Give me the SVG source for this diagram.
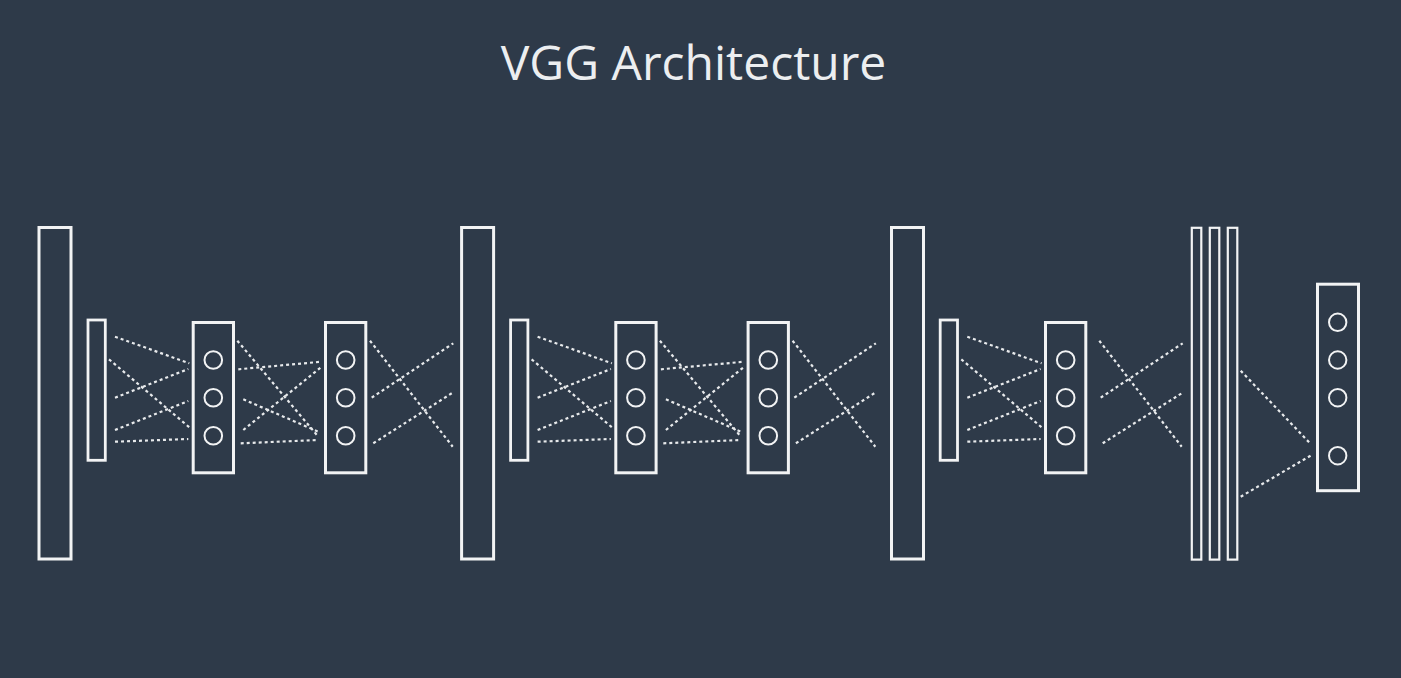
<svg xmlns="http://www.w3.org/2000/svg" width="1401" height="678" viewBox="0 0 1401 678">
<style>
.bg{fill:#2e3a49}
.title{font-family:"Open Sans","Liberation Sans",sans-serif;font-size:48px;fill:#eceef0}
.big{fill:none;stroke:#f2f3f4;stroke-width:3}
.thin{fill:none;stroke:#f2f3f4;stroke-width:2.8}
.fc{fill:none;stroke:#f2f3f4;stroke-width:2.2}
.box{fill:none;stroke:#f2f3f4;stroke-width:3}
.n{fill:none;stroke:#f2f3f4;stroke-width:2}
.c line{stroke:#e8eaec;stroke-width:2.2;stroke-dasharray:3 3}
</style>
<rect class="bg" x="0" y="0" width="1401" height="678"/>
<text class="title" x="693.5" y="80" text-anchor="middle">VGG Architecture</text>

<g id="input1"><rect class="big" x="39" y="227.5" width="32" height="331.5"/></g>
<g id="pool1"><rect class="thin" x="88" y="320" width="17.3" height="140.3"/></g>
<g id="conv1a"><rect class="box" x="193.2" y="322.5" width="40.3" height="150.3"/>
<circle class="n" cx="213.3" cy="360" r="8.8"/><circle class="n" cx="213.3" cy="397.7" r="8.8"/><circle class="n" cx="213.3" cy="435.7" r="8.8"/></g>
<g id="conv1b"><rect class="box" x="325.5" y="322.5" width="40.3" height="150.3"/>
<circle class="n" cx="345.7" cy="360" r="8.8"/><circle class="n" cx="345.7" cy="397.7" r="8.8"/><circle class="n" cx="345.7" cy="435.7" r="8.8"/></g>

<g id="input2"><rect class="big" x="461.6" y="227.5" width="32" height="331.5"/></g>
<g id="pool2"><rect class="thin" x="510.6" y="320" width="17.3" height="140.3"/></g>
<g id="conv2a"><rect class="box" x="615.8" y="322.5" width="40.3" height="150.3"/>
<circle class="n" cx="635.9" cy="360" r="8.8"/><circle class="n" cx="635.9" cy="397.7" r="8.8"/><circle class="n" cx="635.9" cy="435.7" r="8.8"/></g>
<g id="conv2b"><rect class="box" x="748.1" y="322.5" width="40.3" height="150.3"/>
<circle class="n" cx="768.3" cy="360" r="8.8"/><circle class="n" cx="768.3" cy="397.7" r="8.8"/><circle class="n" cx="768.3" cy="435.7" r="8.8"/></g>

<g id="input3"><rect class="big" x="891.5" y="227.5" width="32" height="331.5"/></g>
<g id="pool3"><rect class="thin" x="940.2" y="320" width="17.3" height="140.3"/></g>
<g id="conv3"><rect class="box" x="1045.5" y="322.5" width="40.3" height="150.3"/>
<circle class="n" cx="1065.7" cy="360" r="8.8"/><circle class="n" cx="1065.7" cy="397.7" r="8.8"/><circle class="n" cx="1065.7" cy="435.7" r="8.8"/></g>

<g id="fc"><rect class="fc" x="1191.8" y="227.8" width="9.5" height="331.8"/><rect class="fc" x="1209.8" y="227.8" width="9.5" height="331.8"/><rect class="fc" x="1227.8" y="227.8" width="9.5" height="331.8"/></g>
<g id="output"><rect class="box" x="1317.5" y="284.2" width="41" height="206.5"/>
<circle class="n" cx="1337.7" cy="322.3" r="8.7"/><circle class="n" cx="1337.7" cy="360" r="8.7"/><circle class="n" cx="1337.7" cy="397.7" r="8.7"/><circle class="n" cx="1337.7" cy="455.7" r="8.7"/></g>

<g id="connectors" class="c">
<line x1="115" y1="336.7" x2="189.3" y2="363.3"/>
<line x1="109" y1="359.3" x2="189.3" y2="427.3"/>
<line x1="115" y1="397.7" x2="188.3" y2="369"/>
<line x1="115" y1="430" x2="188.3" y2="401"/>
<line x1="115" y1="441.7" x2="188.3" y2="439"/>
<line x1="237.3" y1="340.7" x2="318.3" y2="436.7"/>
<line x1="238.3" y1="369.3" x2="321.7" y2="361.7"/>
<line x1="243.3" y1="399.3" x2="318.3" y2="431.7"/>
<line x1="243.3" y1="430" x2="321.7" y2="366.7"/>
<line x1="240.7" y1="443.3" x2="318.3" y2="440"/>
<line x1="370" y1="340.7" x2="452.7" y2="446.7"/>
<line x1="371.7" y1="397.7" x2="453.3" y2="343.3"/>
<line x1="373.3" y1="443.3" x2="451.7" y2="393.3"/>

<line x1="537.6" y1="336.7" x2="611.9" y2="363.3"/>
<line x1="531.6" y1="359.3" x2="611.9" y2="427.3"/>
<line x1="537.6" y1="397.7" x2="610.9" y2="369"/>
<line x1="537.6" y1="430" x2="610.9" y2="401"/>
<line x1="537.6" y1="441.7" x2="610.9" y2="439"/>
<line x1="659.9" y1="340.7" x2="740.9" y2="436.7"/>
<line x1="660.9" y1="369.3" x2="744.3" y2="361.7"/>
<line x1="665.9" y1="399.3" x2="740.9" y2="431.7"/>
<line x1="665.9" y1="430" x2="744.3" y2="366.7"/>
<line x1="663.3" y1="443.3" x2="740.9" y2="440"/>
<line x1="792.6" y1="340.7" x2="875.3" y2="446.7"/>
<line x1="794.3" y1="397.7" x2="875.9" y2="343.3"/>
<line x1="795.9" y1="443.3" x2="874.3" y2="393.3"/>

<line x1="967.3" y1="336.7" x2="1041.6" y2="363.3"/>
<line x1="961.3" y1="359.3" x2="1041.6" y2="427.3"/>
<line x1="967.3" y1="397.7" x2="1040.6" y2="369"/>
<line x1="967.3" y1="430" x2="1040.6" y2="401"/>
<line x1="967.3" y1="441.7" x2="1040.6" y2="439"/>
<line x1="1099.3" y1="340.7" x2="1181.7" y2="446.7"/>
<line x1="1100.7" y1="397.7" x2="1182.7" y2="343.3"/>
<line x1="1102.7" y1="443.3" x2="1181.7" y2="393.3"/>

<line x1="1240.7" y1="370.7" x2="1310.7" y2="444"/>
<line x1="1240.7" y1="496.7" x2="1311.7" y2="455"/>
</g>
</svg>
